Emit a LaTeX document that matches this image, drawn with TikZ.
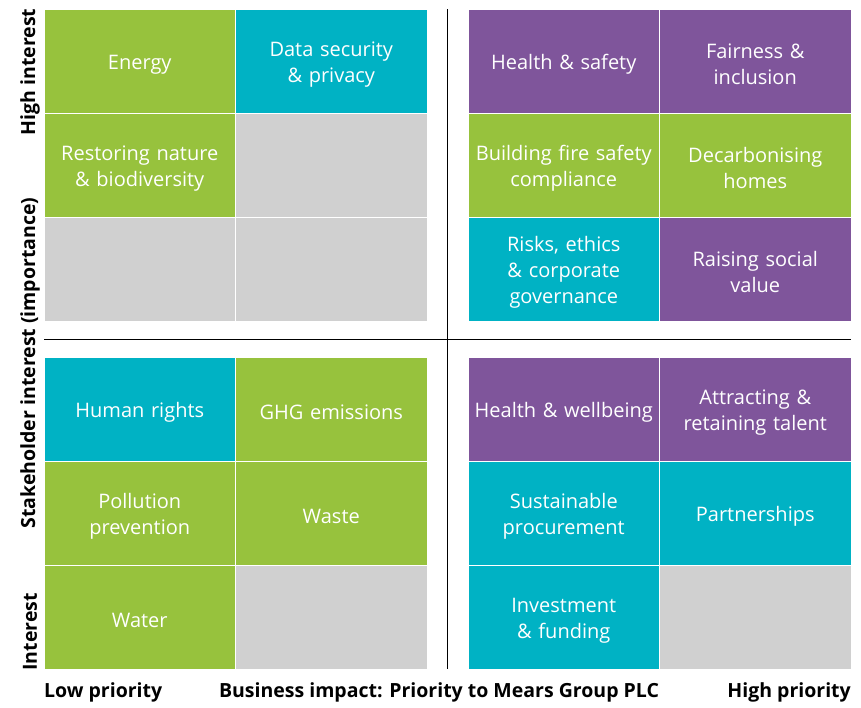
\documentclass[tikz,border=0pt]{standalone}
\usepackage{fontspec}
\setmainfont{Open Sans}
\usetikzlibrary{positioning}
\definecolor{leafgreen}{HTML}{97C23D}
\definecolor{lagoon}{HTML}{00B2C4}
\definecolor{plum}{HTML}{7F559B}
\definecolor{blank}{HTML}{D0D0D0}
\tikzset{
	x=1pt, y=-1pt, % work in pixel-like units, y grows downwards
	cell/.style={minimum width=191.5pt, minimum height=104pt, inner sep=0pt, outer sep=0pt,
		draw=white, line width=0.8pt, text=white, text width=185pt, align=center,
		font=\fontsize{20}{26}\selectfont,
		execute at begin node={\rule{0pt}{21pt}}}, % one box of the matrix, strut drops the text a bit
	green/.style={cell, fill=leafgreen},
	blue/.style={cell, fill=lagoon},
	purple/.style={cell, fill=plum},
	empty/.style={cell, fill=blank},
	axis label/.style={font=\bfseries\fontsize{19.5}{22}\selectfont, inner sep=0pt},
	node distance=0pt,
}

\begin{document}
\begin{tikzpicture}
	\useasboundingbox (0,0) rectangle (861,707);

	% low priority, high interest
	\node[green, anchor=north west] (energy) at (44,9) {Energy};
	\node[blue, right=of energy] (datasec) {Data security\\\& privacy};
	\node[green, below=of energy] (nature) {Restoring nature\\\& biodiversity};
	\node[empty, right=of nature] (tlgap1) {};
	\node[empty, below=of nature] (tlgap2) {};
	\node[empty, right=of tlgap2] (tlgap3) {};

	% high priority, high interest
	\node[purple, anchor=north west] (safety) at (468,9) {Health \& safety};
	\node[purple, right=of safety] (fairness) {Fairness \&\\inclusion};
	\node[green, below=of safety] (fire) {Building fire safety\\compliance};
	\node[green, right=of fire] (decarb) {Decarbonising\\homes};
	\node[blue, below=of fire] (risks) {Risks, ethics\\\& corporate\\governance};
	\node[purple, right=of risks] (social) {Raising social\\value};

	% low priority, interest
	\node[blue, anchor=north west] (rights) at (44,357) {Human rights};
	\node[green, right=of rights] (ghg) {GHG emissions};
	\node[green, below=of rights] (pollution) {Pollution\\prevention};
	\node[green, right=of pollution] (waste) {Waste};
	\node[green, below=of pollution] (water) {Water};
	\node[empty, right=of water] (blgap) {};

	% high priority, interest
	\node[purple, anchor=north west] (wellbeing) at (468,357) {Health \& wellbeing};
	\node[purple, right=of wellbeing] (talent) {Attracting \&\\retaining talent};
	\node[blue, below=of wellbeing] (procure) {Sustainable\\procurement};
	\node[blue, right=of procure] (partner) {Partnerships};
	\node[blue, below=of procure] (invest) {Investment\\\& funding};
	\node[empty, right=of invest] (brgap) {};

	% axes
	\coordinate (vtop) at (447,9);
	\coordinate (vbot) at (447,669);
	\coordinate (hleft) at (44,339);
	\coordinate (hright) at (851,339);
	\draw[line width=1pt] (vtop) -- (vbot);
	\draw[line width=1pt] (hleft) -- (hright);

	\node[axis label, rotate=90] (high) at (30,72) {High interest};
	\node[axis label, rotate=90] (stake) at (30,363) {Stakeholder interest (importance)};
	\node[axis label, rotate=90] (low) at (30,632) {Interest};

	\node[axis label, anchor=west] (lowprio) at (44,692) {Low priority};
	\node[axis label] (impact) at (439,692) {Business impact: Priority to Mears Group PLC};
	\node[axis label, anchor=east] (highprio) at (851,692) {High priority};
\end{tikzpicture}
\end{document}
